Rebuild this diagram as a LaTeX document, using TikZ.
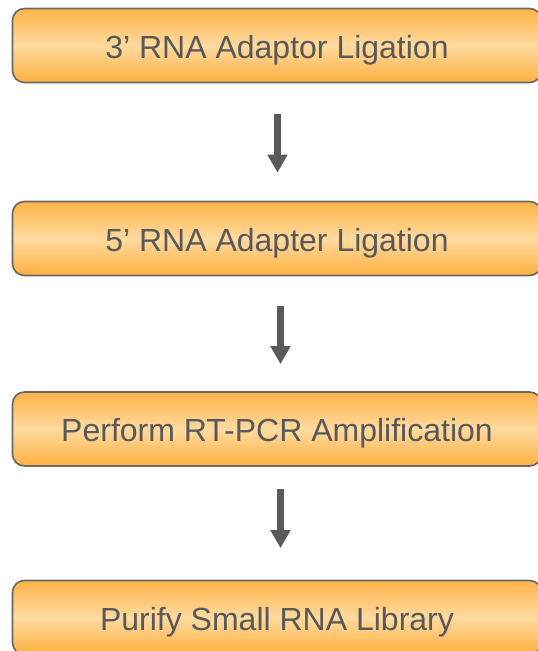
\documentclass[tikz,border=0pt]{standalone}
\usepackage{fontspec}
\setmainfont{Liberation Sans}
\usetikzlibrary{arrows.meta}
\definecolor{boxtop}{HTML}{FFB347}
\definecolor{boxmid}{HTML}{FFDA9F}
\definecolor{boxbot}{HTML}{FFB040}
\definecolor{boxline}{HTML}{666666}
\definecolor{txt}{HTML}{595959}
\definecolor{arr}{HTML}{5A5A5A}
\tikzset{
  stepbox/.style={draw=boxline, line width=1.6pt, rounded corners=12pt,
    top color=boxtop, bottom color=boxbot, middle color=boxmid,
    minimum width=529pt, minimum height=74pt, inner sep=0pt,
    text height=25pt, text depth=0pt,
    text=txt, font=\fontsize{32}{36}\selectfont},
  flowarrow/.style={draw=arr, line width=6.5pt,
    -{Triangle[width=19pt,length=18pt]}}
}
\begin{document}
\begin{tikzpicture}[x=1pt,y=1pt]
\useasboundingbox (0,0) rectangle (538,-651);
\clip (0,0) rectangle (538,-651);
\node[stepbox] (b1) at (277,-45.5) {3’ RNA Adaptor Ligation};
\node[stepbox] (b2) at (277,-238.5) {5’ RNA Adapter Ligation};
\node[stepbox] (b3) at (277,-429) {Perform RT-PCR Amplification};
\node[stepbox] (b4) at (277,-617.5) {Purify Small RNA Library};
\draw[flowarrow, shorten <=31pt, shorten >=28pt] ([xshift=0.5pt]b1.south) -- ([xshift=0.5pt]b2.north);
\draw[flowarrow, shorten <=29.5pt, shorten >=27pt] ([xshift=3.5pt]b2.south) -- ([xshift=3.5pt]b3.north);
\draw[flowarrow, shorten <=22.5pt, shorten >=31.5pt] ([xshift=3.5pt]b3.south) -- ([xshift=3.5pt]b4.north);
\end{tikzpicture}
\end{document}
